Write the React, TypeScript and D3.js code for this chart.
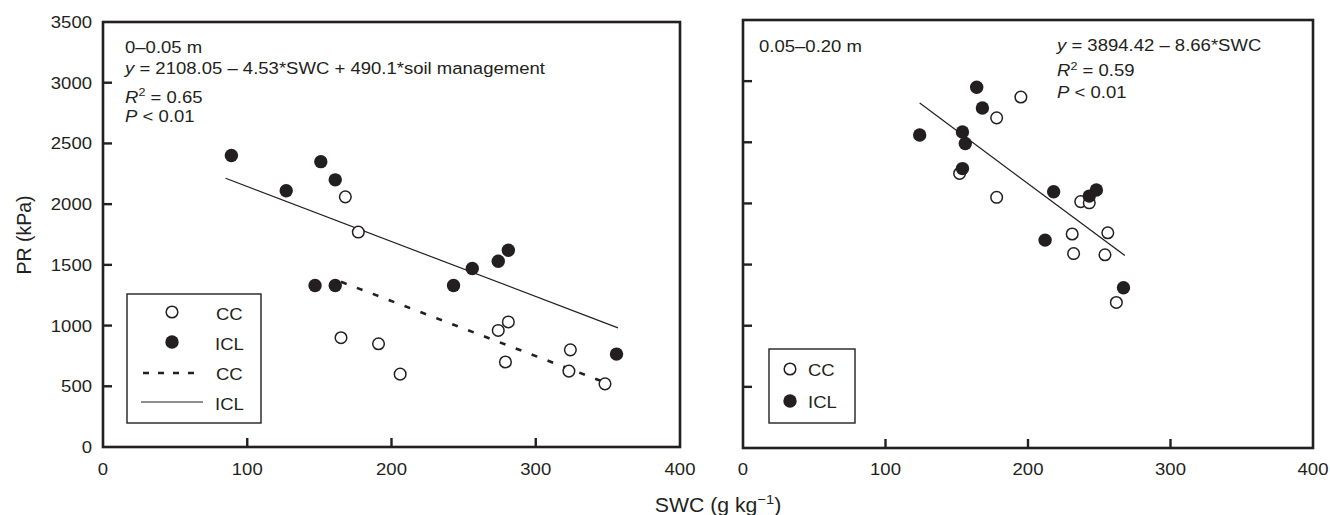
import React from "react";
import * as d3 from "d3";

// ---------- data ----------
const xTicks = [0, 100, 200, 300, 400];
const yTicks = [0, 500, 1000, 1500, 2000, 2500, 3000, 3500];

// Left panel (0–0.05 m)
const leftCC: [number, number][] = [
  [168, 2060], [177, 1770], [165, 900], [191, 850], [206, 600], [281, 1030],
  [274, 960], [279, 700], [324, 800], [323, 625], [348, 520],
];
const leftICL: [number, number][] = [
  [89, 2400], [127, 2110], [151, 2350], [161, 2200], [147, 1330], [161, 1330],
  [243, 1330], [256, 1470], [274, 1530], [281, 1620], [356, 765],
];
// Right panel (0.05–0.20 m)
const rightCC: [number, number][] = [
  [195, 2870], [178, 2700], [152, 2245], [178, 2050], [237, 2015], [243, 2005],
  [231, 1750], [256, 1760], [232, 1590], [254, 1580], [262, 1190],
];
const rightICL: [number, number][] = [
  [164, 2950], [168, 2780], [124, 2560], [154, 2585], [156, 2490], [154, 2285],
  [218, 2095], [248, 2110], [243, 2060], [212, 1700], [267, 1310],
];
// Regression lines: [intercept, slope, xStart, xEnd]
const leftICLFit = [2598.15, -4.53, 85, 357];
const leftCCFit = [2108.05, -4.53, 165, 350];
const rightFit = [3894.42, -8.66, 124, 268];

// ---------- style ----------
const INK = "#231f20";
const FONT = "'Liberation Sans', Arial, Helvetica, sans-serif";
const SX = 1.09;
const FS = 17;

const T = ({ x, y, size = FS, anchor = "start", sx = SX, children }: any) => (
  <text
    transform={`translate(${x},${y}) scale(${sx},1)`}
    fontSize={size}
    textAnchor={anchor}
    fill={INK}
    fontFamily={FONT}
  >
    {children}
  </text>
);

const OpenDot = ({ cx, cy }: any) => (
  <circle cx={cx} cy={cy} r={5.8} fill="#fff" stroke={INK} strokeWidth={1.5} />
);
const FillDot = ({ cx, cy }: any) => <circle cx={cx} cy={cy} r={6.7} fill={INK} />;

const fitPath = (fit: number[], x: any, y: any) => {
  const [a, b, x0, x1] = fit;
  const line = d3
    .line<number>()
    .x((d) => x(d))
    .y((d) => y(a + b * d));
  return line([x0, x1]) || "";
};

const Frame = ({ x, y, labelsY }: any) => {
  const [x0, x1] = x.range();
  const [y0, y1] = y.range();
  return (
    <g>
      <rect
        x={x0}
        y={y1}
        width={x1 - x0}
        height={y0 - y1}
        fill="none"
        stroke={INK}
        strokeWidth={2.6}
      />
      {xTicks.slice(1, -1).map((t) => (
        <line key={"xt" + t} x1={x(t)} x2={x(t)} y1={y0} y2={y0 - 9} stroke={INK} strokeWidth={2.4} />
      ))}
      {yTicks.slice(1, -1).map((t) => (
        <line key={"yt" + t} x1={x0} x2={x0 + 9} y1={y(t)} y2={y(t)} stroke={INK} strokeWidth={2.4} />
      ))}
      {xTicks.map((t) => (
        <T key={"xl" + t} x={x(t)} y={475} anchor="middle">
          {t}
        </T>
      ))}
      {labelsY &&
        yTicks.map((t) => (
          <T key={"yl" + t} x={92} y={y(t) + 6} anchor="end">
            {t}
          </T>
        ))}
    </g>
  );
};

export default function App() {
  const xL = d3.scaleLinear().domain([0, 400]).range([103, 680]);
  const yL = d3.scaleLinear().domain([0, 3500]).range([447, 22]);
  const xR = d3.scaleLinear().domain([0, 400]).range([743, 1313]);
  const yR = d3.scaleLinear().domain([0, 3500]).range([448, 20]);

  return (
    <svg
      width={1330}
      height={515}
      style={{ position: "absolute", left: 0, top: 0, background: "#fff" }}
    >
      <rect width={1330} height={515} fill="#fff" />

      {/* ---------- Left panel ---------- */}
      <Frame x={xL} y={yL} labelsY />
      <path d={fitPath(leftICLFit, xL, yL)} stroke={INK} strokeWidth={1.2} fill="none" />
      <path
        d={fitPath(leftCCFit, xL, yL)}
        stroke={INK}
        strokeWidth={2.6}
        strokeDasharray="6,11"
        fill="none"
      />
      {leftCC.map(([a, b], i) => (
        <OpenDot key={"lc" + i} cx={xL(a)} cy={yL(b)} />
      ))}
      {leftICL.map(([a, b], i) => (
        <FillDot key={"li" + i} cx={xL(a)} cy={yL(b)} />
      ))}

      <T x={125} y={53}>0–0.05 m</T>
      <T x={125} y={74}>
        <tspan fontStyle="italic">y</tspan> = 2108.05 – 4.53*SWC + 490.1*soil management
      </T>
      <T x={125} y={102.5}>
        <tspan fontStyle="italic">R</tspan>
        <tspan dy={-6.5} fontSize={11.5}>2</tspan>
        <tspan dy={6.5}> = 0.65</tspan>
      </T>
      <T x={125} y={122}>
        <tspan fontStyle="italic">P</tspan> &lt; 0.01
      </T>

      {/* left legend */}
      <rect x={127} y={294} width={134} height={129} fill="#fff" stroke={INK} strokeWidth={1.4} />
      <OpenDot cx={172} cy={312} />
      <T x={216} y={319.5}>CC</T>
      <FillDot cx={172} cy={342} />
      <T x={215} y={349.5}>ICL</T>
      <line x1={143} x2={203} y1={373} y2={373} stroke={INK} strokeWidth={2.6} strokeDasharray="6,9" />
      <T x={216} y={379.5}>CC</T>
      <line x1={141} x2={203} y1={402} y2={402} stroke={INK} strokeWidth={1.2} />
      <T x={215} y={409.5}>ICL</T>

      {/* ---------- Right panel ---------- */}
      <Frame x={xR} y={yR} labelsY={false} />
      <path d={fitPath(rightFit, xR, yR)} stroke={INK} strokeWidth={1.2} fill="none" />
      {rightCC.map(([a, b], i) => (
        <OpenDot key={"rc" + i} cx={xR(a)} cy={yR(b)} />
      ))}
      {rightICL.map(([a, b], i) => (
        <FillDot key={"ri" + i} cx={xR(a)} cy={yR(b)} />
      ))}

      <T x={759} y={51.5}>0.05–0.20 m</T>
      <T x={1057} y={50.5}>
        <tspan fontStyle="italic">y</tspan> = 3894.42 – 8.66*SWC
      </T>
      <T x={1057} y={76}>
        <tspan fontStyle="italic">R</tspan>
        <tspan dy={-6.5} fontSize={11.5}>2</tspan>
        <tspan dy={6.5}> = 0.59</tspan>
      </T>
      <T x={1057} y={97.5}>
        <tspan fontStyle="italic">P</tspan> &lt; 0.01
      </T>

      {/* right legend */}
      <rect x={769} y={349} width={86} height={74} fill="#fff" stroke={INK} strokeWidth={1.4} />
      <OpenDot cx={790} cy={369} />
      <T x={808} y={376}>CC</T>
      <FillDot cx={790} cy={401} />
      <T x={808} y={407.5}>ICL</T>

      {/* ---------- axis titles ---------- */}
      <T x={718} y={512} size={19.5} anchor="middle" sx={1.09}>
        SWC (g kg<tspan dy={-8} fontSize={13.5}>−1</tspan>
        <tspan dy={8}>)</tspan>
      </T>
      <text
        transform="translate(30.5,235) rotate(-90)"
        fontSize={19.5}
        textAnchor="middle"
        fill={INK}
        fontFamily={FONT}
      >
        PR (kPa)
      </text>
    </svg>
  );
}
